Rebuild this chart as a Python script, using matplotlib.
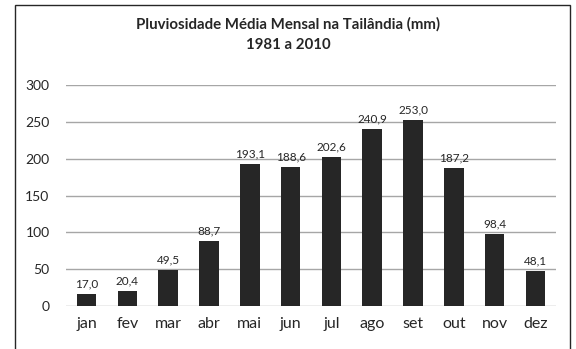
import matplotlib.pyplot as plt
from matplotlib.patches import Rectangle

# Pluviosidade média mensal (mm), 1981-2010
meses = ['jan', 'fev', 'mar', 'abr', 'mai', 'jun', 'jul', 'ago', 'set', 'out', 'nov', 'dez']
chuva = [17.0, 20.4, 49.5, 88.7, 193.1, 188.6, 202.6, 240.9, 253.0, 187.2, 98.4, 48.1]
y_ticks = [0, 50, 100, 150, 200, 250, 300]

plt.rcParams['font.family'] = ['Lato', 'DejaVu Sans']

fig = plt.figure(figsize=(5.76, 3.49), dpi=100)
ax = fig.add_axes([0.115, 0.123, 0.85, 0.633])

# moldura do gráfico
fig.patches.append(Rectangle((15 / 576, -0.05), 555 / 576, 1.036, transform=fig.transFigure,
                             fill=False, edgecolor='#262626', linewidth=1.0))

x = range(len(meses))
ax.bar(x, chuva, width=0.48, color='#262626', zorder=3)
for i, v in enumerate(chuva):
    ax.text(i, v + 6, f'{v:.1f}'.replace('.', ','), ha='center', va='bottom',
            fontsize=8.5, color='#262626')

ax.set_xlim(-0.5, len(meses) - 0.5)
ax.set_ylim(0, 300)
ax.set_yticks(y_ticks)
ax.set_xticks(list(x))
ax.set_xticklabels(meses)
ax.yaxis.grid(True, color='#a6a6a6', linewidth=1.0, zorder=0)
for s in ax.spines.values():
    s.set_visible(False)
ax.tick_params(axis='both', length=0, colors='#262626')
ax.tick_params(axis='y', labelsize=10, pad=12)
ax.tick_params(axis='x', labelsize=11.5, pad=8)

fig.text(0.5, 0.93, 'Pluviosidade Média Mensal na Tailândia (mm)', ha='center', va='center',
         fontsize=10.8, fontweight='bold', color='#262626')
fig.text(0.5, 0.872, '1981 a 2010', ha='center', va='center',
         fontsize=10.8, fontweight='bold', color='#262626')

fig.savefig('out.png', dpi=100)
